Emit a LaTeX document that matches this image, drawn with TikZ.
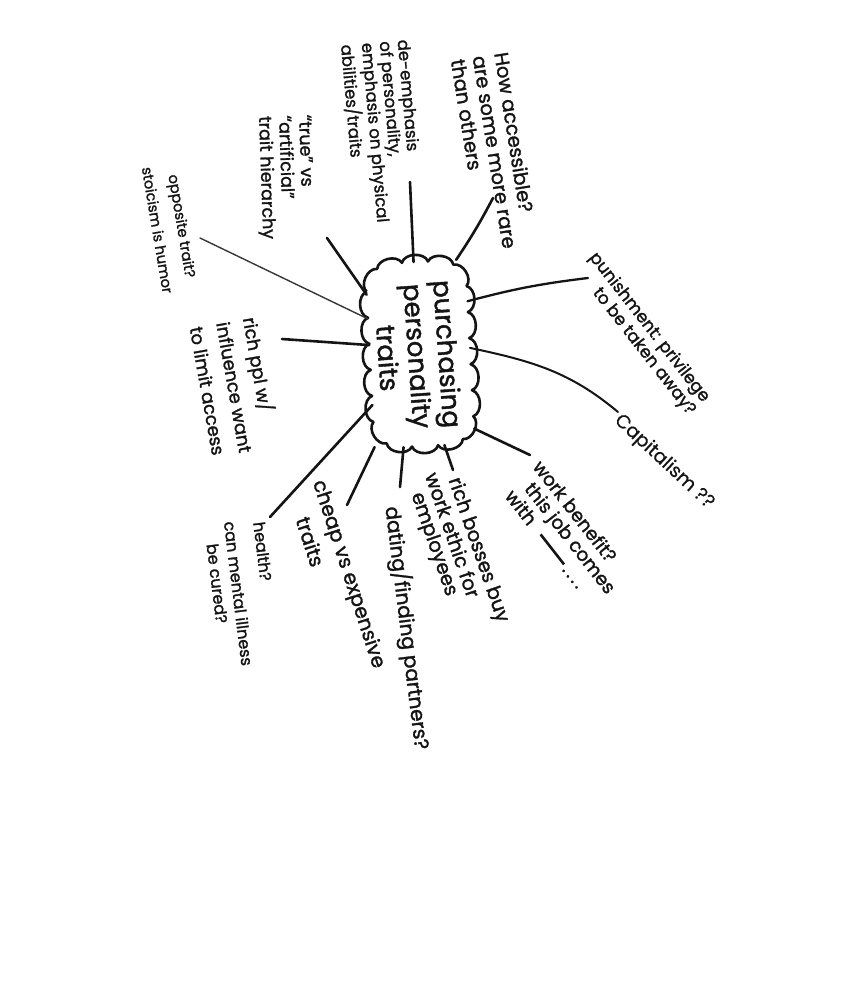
\documentclass[tikz,border=0pt]{standalone}
\usepackage{fontspec}
\setmainfont{Poppins}
\newfontfamily\hand{Poppins}[FakeBold=1.5]
\newfontfamily\thinhand{Poppins}[FakeBold=0.4]
\usetikzlibrary{decorations.markings}
\definecolor{ink}{HTML}{141414}
\newcommand{\fsz}[2]{\fontsize{#1}{#2}\selectfont}
\begin{document}
\begin{tikzpicture}[x=1pt,y=-1pt,
  lbl/.style={inner sep=0pt, align=left, text=ink},
  link/.style={draw=ink, line width=2.6pt, line cap=round},
  thinlink/.style={draw=ink!85, line width=1.4pt, line cap=round},
  cloudline/.style={draw=ink, line width=2.6pt, line join=round},
  bumpto/.style={bend right=72}]
\useasboundingbox[fill=white] (0,0) rectangle (842,989);

% central cloud (scalloped rounded rectangle)
\node[minimum width=100pt, minimum height=184pt, inner sep=0pt, rotate=3] (c) at (420,354) {};
\path[rotate around={3:(420,354)}, rounded corners=27pt, decorate,
  decoration={markings, mark=between positions 0 and 0.96 step 0.05 with
    {\coordinate (b\pgfkeysvalueof{/pgf/decoration/mark info/sequence number});}}]
  (370,262) rectangle (470,446);
\draw[cloudline] (b1) \foreach \i in {2,...,20}{ to[bumpto] (b\i) } to[bumpto] (b1);
\node[lbl, align=center, font=\hand\fsz{26}{30}, rotate=-86] (ct) at (418,356)
  {purchasing\\personality\\traits};

% labels
\node[lbl, font=\hand\fsz{19.5}{22}, rotate=-81] (t1) at (495,152)
  {How accessible?\\are some more rare\\than others};
\node[lbl, font=\hand\fsz{16.5}{18}, rotate=-85] (t2) at (382,132)
  {de-emphasis\\of personality,\\emphasis on physical\\abilities/traits};
\node[lbl, font=\hand\fsz{17.5}{20}, rotate=-88] (t3) at (285,177)
  {“true” vs\\“artificial”\\trait hierarchy};
\node[lbl, align=center, font=\hand\fsz{14.5}{25}, rotate=-80.5] (t4) at (170,228)
  {opposite trait?\\stoicism is humor};
\node[lbl, font=\hand\fsz{17}{19}, rotate=-52] (t5) at (642,334)
  {punishment: privilege\\\hspace*{30pt}to be taken away?};
\node[lbl, font=\thinhand\fsz{19}{22}, rotate=-43] (t6) at (664,462)
  {Capitalism ??};
\node[lbl, font=\hand\fsz{18}{27}, rotate=-80] (t7) at (236,387)
  {rich ppl w/\\influence want\\to limit access};
\node[lbl, font=\hand\fsz{18.5}{20}, rotate=-52] (t8) at (567,533)
  {work benefit?\\\hspace*{12pt}this job comes\\\hspace*{6pt}with\hspace{14pt}\rule[0.22em]{38pt}{2.6pt}\hspace{3pt}.\,.\,.\,.};
\node[lbl, font=\hand\fsz{19.5}{19}, rotate=-71] (t9) at (457,551)
  {\hspace*{12pt}rich bosses buy\\work ethic for\\\hspace*{14pt}employees};
\node[lbl, font=\hand\fsz{20}{22}, rotate=-83] (t10) at (407,628)
  {dating/finding partners?};
\node[lbl, font=\hand\fsz{20}{28}, rotate=-72] (t11) at (337,578)
  {cheap vs expensive\\\hspace*{30pt}traits};
\node[lbl, font=\hand\fsz{16}{20}, rotate=-83] (t12) at (243,593)
  {\hspace*{4pt}health?\\[9pt]can mental illness\\\hspace*{20pt}be cured?};

% free ends of connectors
\coordinate (e1) at (493,198);
\coordinate (e2) at (410,182);
\coordinate (e3) at (327,238);
\coordinate (e4) at (200,238);
\coordinate (e5) at (588,278);
\coordinate (e6) at (618,412);
\coordinate (e7) at (282,339);
\coordinate (e8) at (530,455);
\coordinate (e9) at (453,470);
\coordinate (e10) at (400,487);
\coordinate (e11) at (347,505);
\coordinate (e12) at (270,517);

% connectors
\draw[link] (c.66) to[bend right=3] (e1);
\draw[link] (c.91) -- (e2);
\draw[link] (c.129) -- (e3);
\draw[thinlink] (c.143) -- (e4);
\draw[link, line width=2.3pt] (c.45) to[bend left=4] (e5);
\draw[link, line width=2pt] (c.4) to[out=-12, in=140] (e6);
\draw[link] (c.167) -- (e7);
\draw[link] (c.224) -- (e12);
\draw[link] (c.241) -- (e11);
\draw[link] (c.257) -- (e10);
\draw[link] (c.282) -- (e9);
\draw[link] (c.303) -- (e8);
\end{tikzpicture}
\end{document}
